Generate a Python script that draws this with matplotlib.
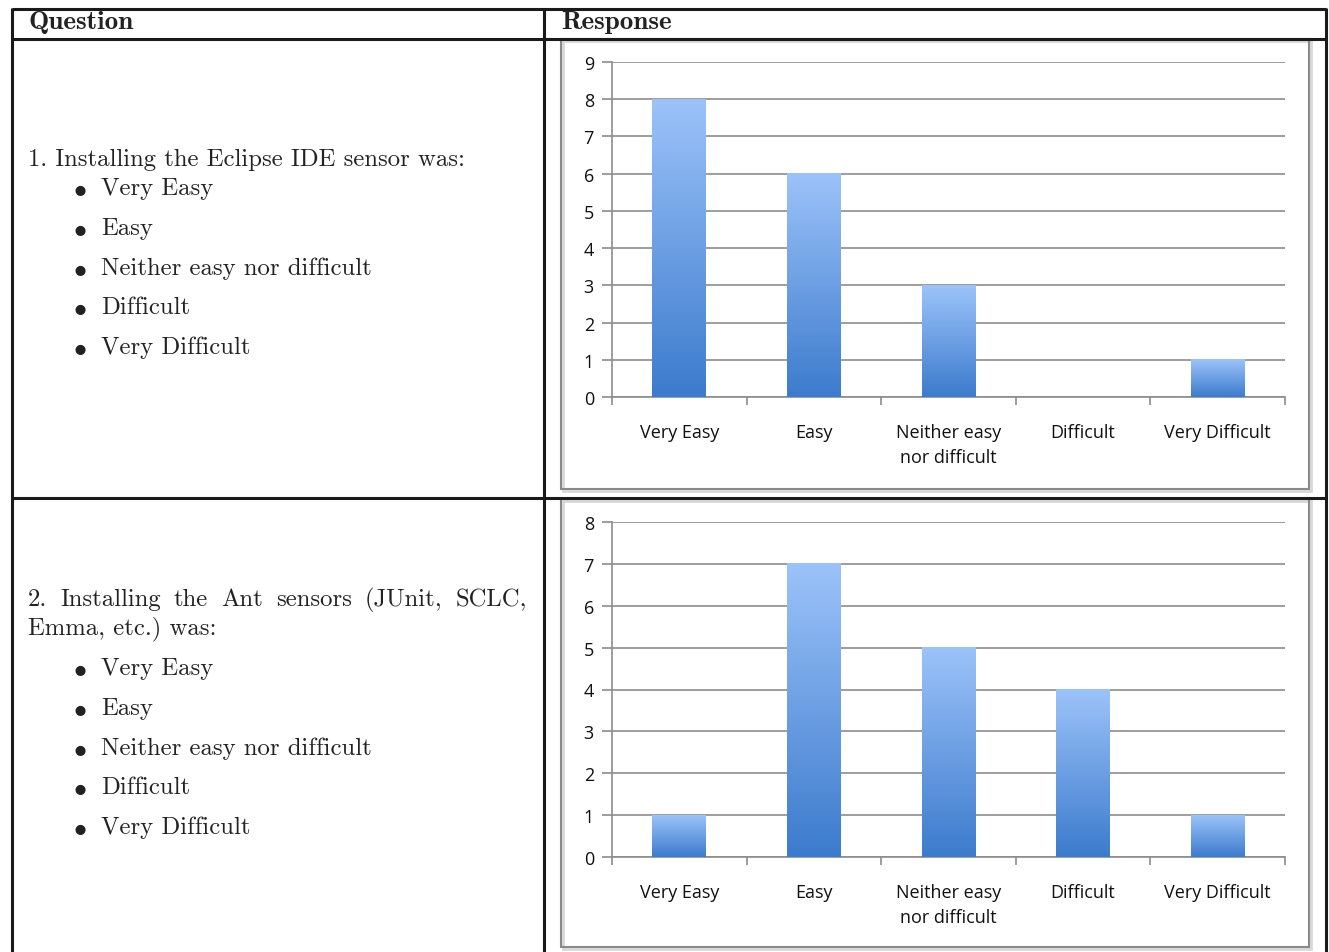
import matplotlib
matplotlib.use("Agg")
import matplotlib.pyplot as plt
import numpy as np
from matplotlib.colors import LinearSegmentedColormap
from matplotlib.patches import Rectangle

plt.rcParams['mathtext.fontset'] = 'cm'

# ---- data ----
categories = ["Very Easy", "Easy", "Neither easy\nnor difficult", "Difficult", "Very Difficult"]
eclipse_counts = [8, 6, 3, 0, 1]
ant_counts = [1, 7, 5, 4, 1]
eclipse_ymax = 9
ant_ymax = 8

options = ["Very Easy", "Easy", "Neither easy nor difficult", "Difficult", "Very Difficult"]
q1_text = "1. Installing the Eclipse IDE sensor was:"
q2_line1 = "2. Installing the Ant sensors (JUnit, SCLC,"
q2_line2 = "Emma, etc.) was:"

W, H = 1329, 953
fig = plt.figure(figsize=(W / 100, H / 100), dpi=100)
bg = fig.add_axes([0, 0, 1, 1])
bg.set_xlim(0, W)
bg.set_ylim(H, 0)
bg.axis("off")

# ---- table rules ----
rule = dict(color="#1a1a1a", lw=2.2, solid_capstyle="butt")
bg.plot([12, 1326], [9.5, 9.5], **rule)
bg.plot([12, 1326], [39.5, 39.5], **rule)
bg.plot([12, 1326], [498.5, 498.5], **rule)
bg.plot([12, 12], [8.5, H], **rule)
bg.plot([544, 544], [8.5, H], **rule)
bg.plot([1326, 1326], [8.5, H], **rule)

serif = "cmr10"
bg.text(28, 23, "Question", family="cmb10", fontsize=19.5, va="center", ha="left", color="#222")
bg.text(561, 23, "Response", family="cmb10", fontsize=19.5, va="center", ha="left", color="#222")

fs = 17.8
txtc = "#222222"


def bullets(y0, step):
    for i, opt in enumerate(options):
        y = y0 + i * step
        bg.text(80, y, r"$\bullet$", fontsize=fs + 1, va="center", ha="center", color=txtc)
        bg.text(101, y, opt, family=serif, fontsize=fs, va="center", ha="left", color=txtc)


bg.text(28, 160, q1_text, family=serif, fontsize=fs, va="center", ha="left", color=txtc)
bullets(189, 39.8)

# justified first line of question 2
fig.canvas.draw()
renderer = fig.canvas.get_renderer()
words = q2_line1.split(" ")
arts = [bg.text(0, 600, w, family=serif, fontsize=fs, va="center", ha="left", color=txtc) for w in words]
widths = [a.get_window_extent(renderer).width for a in arts]
x_left, x_right = 28, 527
gap = (x_right - x_left - sum(widths)) / (len(words) - 1)
x = x_left
for a, w in zip(arts, widths):
    a.set_x(x)
    x += w + gap
bg.text(28, 629, q2_line2, family=serif, fontsize=fs, va="center", ha="left", color=txtc)
bullets(669, 39.8)

# ---- chart frames ----
for (x0, y0, x1, y1) in [(561, 40, 1309, 490), (561, 500, 1309, 948)]:
    bg.add_patch(Rectangle((x0 + 2, y0 + 2), x1 - x0, y1 - y0, fill=False, ec="#d8d8d8", lw=2.0))
    bg.add_patch(Rectangle((x0, y0), x1 - x0, y1 - y0, fill=False, ec="#8a8a8a", lw=1.5))

cmap = LinearSegmentedColormap.from_list("bar", ["#3c7bcd", "#9cc3f9"])
grad = np.linspace(0, 1, 256).reshape(-1, 1)
label_font = "Open Sans"


def chart(bottom_px, values, ymax):
    left_px, right_px = 612, 1285
    ax = fig.add_axes([left_px / W, (H - bottom_px) / H, (right_px - left_px) / W, 335 / H])
    ax.set_facecolor("none")
    x = np.arange(len(values))
    bars = ax.bar(x, values, width=0.4, color="none", zorder=3)
    for b in bars:
        h = b.get_height()
        if h <= 0:
            continue
        bx = b.get_x()
        ax.imshow(grad, extent=[bx, bx + b.get_width(), 0, h], origin="lower",
                  cmap=cmap, aspect="auto", zorder=3, interpolation="bilinear")
    ax.set_xlim(-0.5, len(values) - 0.5)
    ax.set_ylim(0, ymax)
    ax.set_yticks(range(ymax + 1))
    ax.yaxis.grid(True, color="#8c8c8c", lw=1.2)
    ax.set_axisbelow(True)
    for s in ["top", "right"]:
        ax.spines[s].set_visible(False)
    for s in ["left", "bottom"]:
        ax.spines[s].set_color("#8c8c8c")
        ax.spines[s].set_linewidth(1.2)
    ax.tick_params(axis="y", length=7, width=1.2, color="#8c8c8c", pad=6, labelsize=13)
    ax.set_xticks(x)
    ax.set_xticklabels(categories, fontsize=13, linespacing=1.45)
    ax.set_xticks(np.arange(len(values) + 1) - 0.5, minor=True)
    ax.tick_params(axis="x", which="major", length=0, pad=19)
    ax.tick_params(axis="x", which="minor", length=6, width=1.2, color="#8c8c8c")
    for lab in ax.get_xticklabels() + ax.get_yticklabels():
        lab.set_family(label_font)
        lab.set_color("#111111")
    for lab in ax.get_xticklabels():
        lab.set_verticalalignment("top")
    return ax


chart(398, eclipse_counts, eclipse_ymax)
chart(858, ant_counts, ant_ymax)

fig.savefig("out.png", dpi=100)
